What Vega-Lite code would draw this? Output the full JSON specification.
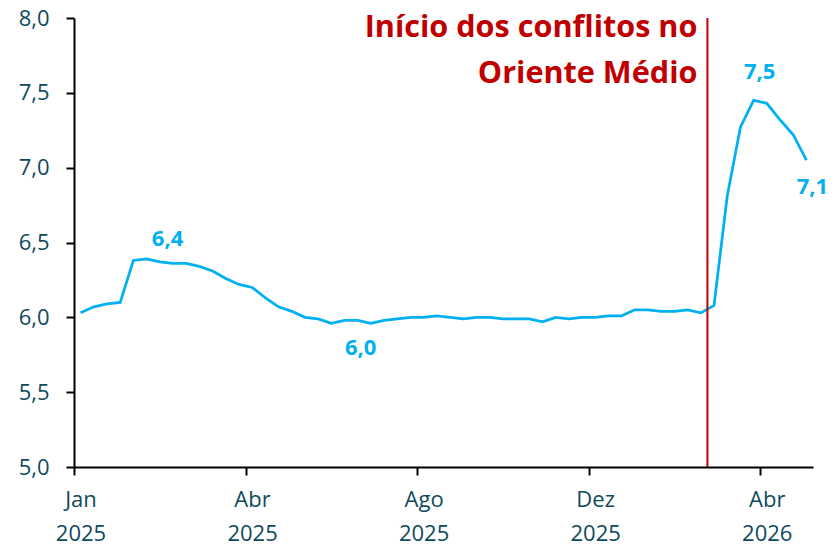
{
  "$schema": "https://vega.github.io/schema/vega-lite/v6.json",
  "width": 739,
  "height": 449,
  "autosize": {"type": "none"},
  "padding": {"left": 74, "top": 18, "right": 23, "bottom": 78},
  "background": "white",
  "config": {"view": {"stroke": null}, "font": "Open Sans"},
  "datasets": {
    "serie": [
      {"idx": 0, "valor": 6.03}, {"idx": 1, "valor": 6.07}, {"idx": 2, "valor": 6.09}, {"idx": 3, "valor": 6.10},
      {"idx": 4, "valor": 6.38}, {"idx": 5, "valor": 6.39, "rotulo": "6,4"}, {"idx": 6, "valor": 6.37}, {"idx": 7, "valor": 6.36},
      {"idx": 8, "valor": 6.36}, {"idx": 9, "valor": 6.34}, {"idx": 10, "valor": 6.31}, {"idx": 11, "valor": 6.26},
      {"idx": 12, "valor": 6.22}, {"idx": 13, "valor": 6.20}, {"idx": 14, "valor": 6.13}, {"idx": 15, "valor": 6.07},
      {"idx": 16, "valor": 6.04}, {"idx": 17, "valor": 6.00}, {"idx": 18, "valor": 5.99}, {"idx": 19, "valor": 5.96},
      {"idx": 20, "valor": 5.98}, {"idx": 21, "valor": 5.98, "rotulo": "6,0"}, {"idx": 22, "valor": 5.96}, {"idx": 23, "valor": 5.98},
      {"idx": 24, "valor": 5.99}, {"idx": 25, "valor": 6.00}, {"idx": 26, "valor": 6.00}, {"idx": 27, "valor": 6.01},
      {"idx": 28, "valor": 6.00}, {"idx": 29, "valor": 5.99}, {"idx": 30, "valor": 6.00}, {"idx": 31, "valor": 6.00},
      {"idx": 32, "valor": 5.99}, {"idx": 33, "valor": 5.99}, {"idx": 34, "valor": 5.99}, {"idx": 35, "valor": 5.97},
      {"idx": 36, "valor": 6.00}, {"idx": 37, "valor": 5.99}, {"idx": 38, "valor": 6.00}, {"idx": 39, "valor": 6.00},
      {"idx": 40, "valor": 6.01}, {"idx": 41, "valor": 6.01}, {"idx": 42, "valor": 6.05}, {"idx": 43, "valor": 6.05},
      {"idx": 44, "valor": 6.04}, {"idx": 45, "valor": 6.04}, {"idx": 46, "valor": 6.05}, {"idx": 47, "valor": 6.03},
      {"idx": 48, "valor": 6.08}, {"idx": 49, "valor": 6.81}, {"idx": 50, "valor": 7.27}, {"idx": 51, "valor": 7.45, "rotulo": "7,5"},
      {"idx": 52, "valor": 7.43}, {"idx": 53, "valor": 7.32}, {"idx": 54, "valor": 7.22}, {"idx": 55, "valor": 7.05, "rotulo": "7,1"}
    ],
    "evento": [{"idx": 47.5, "texto": ["Início dos conflitos no", "Oriente Médio"]}]
  },
  "layer": [
    {
      "data": {"name": "serie"},
      "mark": {"type": "line", "color": "#00B0F0", "strokeWidth": 2.75},
      "encoding": {
        "x": {
          "field": "idx", "type": "quantitative",
          "scale": {"domain": [-0.5, 55.5], "nice": false, "zero": false},
          "axis": {
            "title": null, "grid": false,
            "values": [-0.5, 12.5, 25.5, 38.5, 51.5],
            "labelExpr": "datum.value == -0.5 ? ['Jan', '2025'] : datum.value == 12.5 ? ['Abr', '2025'] : datum.value == 25.5 ? ['Ago', '2025'] : datum.value == 38.5 ? ['Dez', '2025'] : ['Abr', '2026']",
            "labelOffset": 6.5,
            "labelFontSize": 22, "labelColor": "#0F4A5C", "labelLineHeight": 34,
            "labelPadding": 14, "labelFlush": false, "labelOverlap": false,
            "tickSize": 8, "tickWidth": 2, "tickColor": "#000000",
            "domainColor": "#000000", "domainWidth": 2
          }
        },
        "y": {
          "field": "valor", "type": "quantitative",
          "scale": {"domain": [5, 8], "nice": false, "zero": false},
          "axis": {
            "title": null, "grid": false,
            "values": [5, 5.5, 6, 6.5, 7, 7.5, 8],
            "labelExpr": "replace(format(datum.value, '.1f'), '.', ',')",
            "labelFontSize": 22, "labelColor": "#0F4A5C", "labelPadding": 17,
            "labelFlush": false, "labelOverlap": false,
            "tickSize": 8, "tickWidth": 2, "tickColor": "#000000",
            "domainColor": "#000000", "domainWidth": 2
          }
        }
      }
    },
    {
      "data": {"name": "evento"},
      "mark": {"type": "rule", "color": "#C00000", "strokeWidth": 2},
      "encoding": {"x": {"field": "idx", "type": "quantitative"}}
    },
    {
      "data": {"name": "evento"},
      "mark": {"type": "text", "align": "right", "baseline": "alphabetic", "dx": -10, "dy": 19, "fontSize": 30.6, "fontWeight": "bold", "color": "#C00000", "lineHeight": 46},
      "encoding": {
        "x": {"field": "idx", "type": "quantitative"},
        "y": {"datum": 8, "type": "quantitative"},
        "text": {"field": "texto"}
      }
    },
    {
      "data": {"name": "serie"},
      "transform": [{"filter": "datum.rotulo == '6,4'"}],
      "mark": {"type": "text", "align": "center", "baseline": "middle", "dx": 21, "dy": -20, "fontSize": 22, "fontWeight": "bold", "color": "#00B0F0"},
      "encoding": {"x": {"field": "idx", "type": "quantitative"}, "y": {"field": "valor", "type": "quantitative"}, "text": {"field": "rotulo"}}
    },
    {
      "data": {"name": "serie"},
      "transform": [{"filter": "datum.rotulo == '6,0'"}],
      "mark": {"type": "text", "align": "center", "baseline": "middle", "dx": 3, "dy": 28, "fontSize": 22, "fontWeight": "bold", "color": "#00B0F0"},
      "encoding": {"x": {"field": "idx", "type": "quantitative"}, "y": {"field": "valor", "type": "quantitative"}, "text": {"field": "rotulo"}}
    },
    {
      "data": {"name": "serie"},
      "transform": [{"filter": "datum.rotulo == '7,5'"}],
      "mark": {"type": "text", "align": "center", "baseline": "middle", "dx": 6, "dy": -28, "fontSize": 22, "fontWeight": "bold", "color": "#00B0F0"},
      "encoding": {"x": {"field": "idx", "type": "quantitative"}, "y": {"field": "valor", "type": "quantitative"}, "text": {"field": "rotulo"}}
    },
    {
      "data": {"name": "serie"},
      "transform": [{"filter": "datum.rotulo == '7,1'"}],
      "mark": {"type": "text", "align": "center", "baseline": "middle", "dx": 6, "dy": 27, "fontSize": 22, "fontWeight": "bold", "color": "#00B0F0"},
      "encoding": {"x": {"field": "idx", "type": "quantitative"}, "y": {"field": "valor", "type": "quantitative"}, "text": {"field": "rotulo"}}
    }
  ]
}
